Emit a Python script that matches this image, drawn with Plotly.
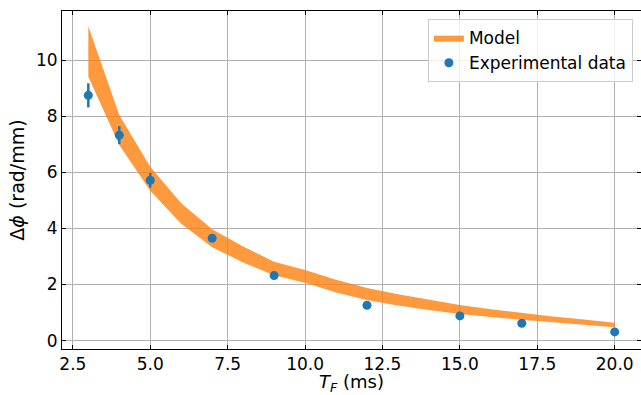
import plotly.graph_objects as go

# Model band
model_t = [3, 4, 5, 6, 7, 8, 9, 10, 11, 12, 13, 14, 15, 16, 17, 18, 19, 20]
model_upper = [11.22, 8.05, 6.2, 4.9, 3.97, 3.36, 2.81, 2.52, 2.17, 1.88, 1.65, 1.45, 1.27, 1.12, 0.98, 0.86, 0.75, 0.64]
model_lower = [9.41, 6.98, 5.35, 4.17, 3.33, 2.79, 2.33, 2.06, 1.72, 1.45, 1.25, 1.09, 0.95, 0.84, 0.74, 0.64, 0.56, 0.48]

# Experimental data
exp_t = [3, 4, 5, 7, 9, 12, 15, 17, 20]
exp_phi = [8.75, 7.33, 5.72, 3.65, 2.32, 1.26, 0.88, 0.62, 0.31]
exp_err = [0.43, 0.32, 0.26, 0.12, 0.08, 0.07, 0.06, 0.05, 0.05]

xticks = [2.5, 5.0, 7.5, 10.0, 12.5, 15.0, 17.5, 20.0]
yticks = [0, 2, 4, 6, 8, 10]

fig = go.Figure()
fig.add_trace(go.Scatter(
    x=model_t + model_t[::-1],
    y=model_upper + model_lower[::-1],
    fill="toself", fillcolor="rgba(255,127,14,0.8)",
    line=dict(width=0, color="rgba(255,127,14,0.8)"),
    mode="lines", name="Model", hoverinfo="skip",
))
fig.add_trace(go.Scatter(
    x=exp_t, y=exp_phi, mode="markers", name="Experimental data",
    marker=dict(color="#1f77b4", size=9),
    error_y=dict(type="data", array=exp_err, visible=True, color="#1f77b4", thickness=2.5, width=0),
))

axis_common = dict(
    showline=True, linecolor="black", linewidth=1, mirror="ticks",
    ticks="inside", ticklen=4, tickwidth=1, tickcolor="black",
    showgrid=True, gridcolor="#b0b0b0", gridwidth=1, zeroline=False,
    tickfont=dict(family="DejaVu Sans", size=17, color="black"),
)
fig.update_xaxes(
    range=[2.15, 20.85], tickvals=xticks, ticktext=[f"{v:.1f}" for v in xticks],
    **axis_common,
)
fig.update_yaxes(
    range=[-0.30, 11.76], tickvals=yticks, ticktext=[str(v) for v in yticks],
    title=dict(text="Δ<i>ϕ</i> (rad/mm)", font=dict(family="DejaVu Sans", size=19, color="black"), standoff=6),
    **axis_common,
)
fig.add_annotation(
    text="<i>T</i><sub><i>F</i></sub> (ms)", xref="paper", yref="paper",
    x=0.5, y=-0.101, xanchor="center", yanchor="middle", showarrow=False,
    font=dict(family="DejaVu Sans", size=18, color="black"),
)
fig.update_layout(
    width=641, height=395,
    margin=dict(l=62, r=0, t=11, b=46),
    plot_bgcolor="white", paper_bgcolor="white",
    font=dict(family="DejaVu Sans", color="black"),
    legend=dict(
        x=0.986, y=0.976, xanchor="right", yanchor="top",
        bgcolor="rgba(255,255,255,0.8)", bordercolor="#cccccc", borderwidth=1,
        font=dict(family="DejaVu Sans", size=17, color="black"),
    ),
    showlegend=True,
)
fig.write_html("out.html")
